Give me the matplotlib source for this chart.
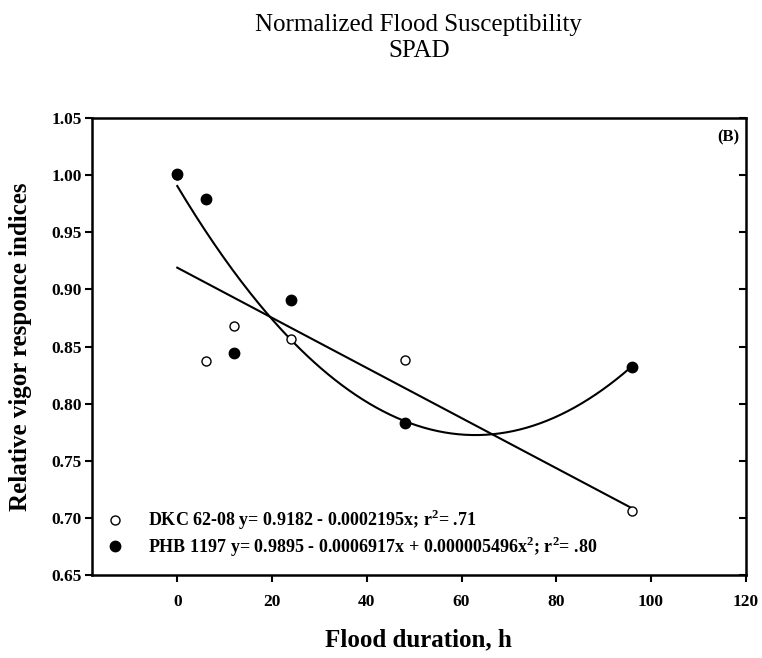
import numpy as np
import matplotlib
matplotlib.use('Agg')
import matplotlib.pyplot as plt
from matplotlib.lines import Line2D

plt.rcParams['font.family'] = ['Liberation Serif', 'DejaVu Serif']
plt.rcParams['mathtext.fontset'] = 'custom'
plt.rcParams['mathtext.rm'] = 'Liberation Serif'
plt.rcParams['mathtext.bf'] = 'Liberation Serif:bold'

# flood duration (h) and normalized SPAD readings per hybrid
hours = [0, 6, 12, 24, 48, 96]
dkc = [1.000, 0.837, 0.868, 0.857, 0.838, 0.706]
phb = [1.001, 0.979, 0.844, 0.891, 0.783, 0.832]

dkc_label = r'DKC 62-08 y= 0.9182 - 0.0002195x; r$^{\mathbf{2}}$= .71'
phb_label = r'PHB 1197 y= 0.9895 - 0.0006917x + 0.000005496x$^{\mathbf{2}}$; r$^{\mathbf{2}}$= .80'

fig = plt.figure(figsize=(7.62, 6.58), dpi=100)
ax = fig.add_axes([0.1207, 0.1261, 0.858, 0.6946])

# regression lines over the sampled range
xs = np.linspace(0, 96, 200)
lin = np.polyfit(hours, dkc, 1)
quad = np.polyfit(hours, phb, 2)
ax.plot(xs, np.polyval(lin, xs), color='black', lw=1.5)
ax.plot(xs, np.polyval(quad, xs), color='black', lw=1.5)

ax.plot(hours, dkc, 'o', ms=6.5, mfc='white', mec='black', mew=1.0, zorder=3)
ax.plot(hours, phb, 'o', ms=7.5, mfc='black', mec='black', zorder=4)

ax.set_xlim(-18, 120)
ax.set_ylim(0.65, 1.05)
ax.set_xticks(range(0, 121, 20))
yt = np.arange(0.65, 1.051, 0.05)
ax.set_yticks(yt)
ax.set_yticklabels(['%.2f' % v for v in yt])

for s in ax.spines.values():
    s.set_linewidth(1.8)
ax.tick_params(axis='both', labelsize=12.5, width=1.5, length=5)
ax.tick_params(axis='y', direction='out', right=True, pad=2.5)
ax.tick_params(axis='x', direction='out', pad=9)
for lab in ax.get_xticklabels() + ax.get_yticklabels():
    lab.set_fontweight('bold')
# right-hand ticks point inward
for t in ax.yaxis.get_major_ticks():
    t.tick2line.set_marker(matplotlib.markers.TICKLEFT)

ax.set_xlabel('Flood duration, h', fontsize=18, fontweight='bold', labelpad=13)
ax.set_ylabel('Relative vigor responce indices', fontsize=18, fontweight='bold', labelpad=14)
ax.set_title('Normalized Flood Susceptibility\nSPAD', fontsize=18, pad=44)

ax.text(0.99, 0.975, '(B)', transform=ax.transAxes, ha='right', va='top',
        fontsize=12, fontweight='bold')

handles = [
    Line2D([], [], ls='none', marker='o', ms=6.5, mfc='white', mec='black', mew=1.0),
    Line2D([], [], ls='none', marker='o', ms=7.5, mfc='black', mec='black'),
]
ax.legend(handles, [dkc_label, phb_label], loc='lower left', frameon=False,
          prop={'weight': 'bold', 'size': 13}, handletextpad=0.8,
          borderaxespad=0, borderpad=0, labelspacing=0.12,
          bbox_to_anchor=(0.008, 0.036))

fig.savefig('out.png', dpi=100)
